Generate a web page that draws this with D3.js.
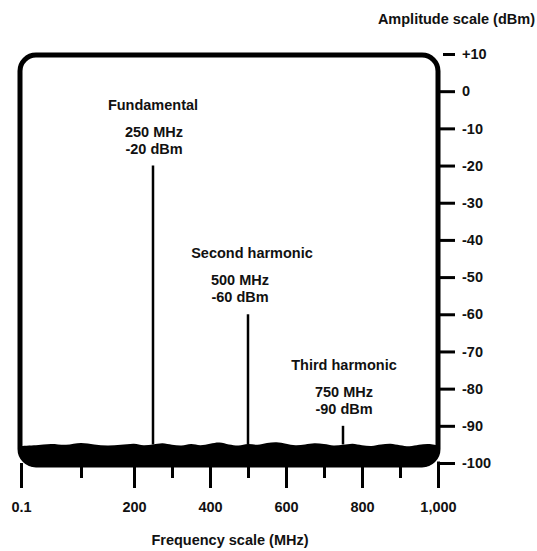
<!DOCTYPE html>
<html>
<head>
<meta charset="utf-8">
<script src="https://cdn.jsdelivr.net/npm/d3@7/dist/d3.min.js"></script>
<style>
  html, body { margin: 0; padding: 0; background: #fff; }
  svg { display: block; font-family: "Liberation Sans", Arial, Helvetica, sans-serif; }
  text { fill: #111; }
</style>
</head>
<body>
<svg id="chart" width="537" height="551"></svg>
<script>
// ---- data ----
const freqTicks = [0.1, 100, 200, 300, 400, 500, 600, 700, 800, 900, 1000];
const freqLabelTicks = [0.1, 200, 400, 600, 800, 1000];
const ampTicks = [10, 0, -10, -20, -30, -40, -50, -60, -70, -80, -90, -100];
const peakNames = ["Fundamental", "Second harmonic", "Third harmonic"];
const peakMHz = [250, 500, 750];
const peakDbm = [-20, -60, -90];
const noiseMHz = [0.1, 25, 50, 75, 100, 125, 150, 175, 200, 225, 250, 275, 300, 325, 350, 375, 400, 425, 450, 475, 500, 525, 550, 575, 600, 625, 650, 675, 700, 725, 750, 775, 800, 825, 850, 875, 900, 925, 950, 975, 1000];
const noiseDbm = [-95.4, -95.2, -94.9, -95.1, -94.6, -95.0, -95.3, -95.1, -94.8, -95.2, -95.0, -94.7, -95.1, -95.3, -94.9, -95.2, -94.8, -94.5, -95.0, -95.3, -94.9, -95.1, -94.6, -94.4, -94.8, -95.2, -95.0, -94.7, -94.9, -95.3, -95.1, -94.8, -95.2, -95.4, -95.0, -94.8, -95.2, -95.5, -95.1, -94.9, -95.3];

// ---- layout ----
const svg = d3.select("#chart");
const boxL = 20, boxR = 438, boxT = 55, boxB = 465, rad = 16;

// piecewise-linear frequency scale (schematic spacing of the original)
const x = d3.scaleLinear().domain([0.1, 100, 200, 1000]).range([21, 81, 134, 438]);
const y = d3.scaleLinear().domain([10, -100]).range([54, 463]);

svg.append("rect").attr("width", 537).attr("height", 551).attr("fill", "#fff");

// clip for noise floor
svg.append("clipPath").attr("id", "boxclip")
  .append("rect").attr("x", boxL).attr("y", boxT).attr("width", boxR - boxL).attr("height", boxB - boxT + 2)
  .attr("rx", rad).attr("ry", rad);

// noise floor area
const area = d3.area()
  .x((d, i) => x(noiseMHz[i]))
  .y0(boxB + 3)
  .y1(d => y(d))
  .curve(d3.curveCatmullRom);
svg.append("path")
  .datum(noiseDbm)
  .attr("clip-path", "url(#boxclip)")
  .attr("d", area)
  .attr("fill", "#000");

// box outline
svg.append("rect")
  .attr("x", boxL).attr("y", boxT).attr("width", boxR - boxL).attr("height", boxB - boxT)
  .attr("rx", rad).attr("ry", rad)
  .attr("fill", "none").attr("stroke", "#000").attr("stroke-width", 5);

// spikes
svg.selectAll("line.spike").data(peakMHz).enter().append("line")
  .attr("class", "spike")
  .attr("x1", d => x(d)).attr("x2", d => x(d))
  .attr("y1", (d, i) => y(peakDbm[i]))
  .attr("y2", y(-95))
  .attr("stroke", "#000").attr("stroke-width", 2.5);

// peak labels
const nameDx = [0, 4, 1], valDx = [1, -8, 1];
const g = svg.selectAll("g.peak").data(peakMHz).enter().append("g").attr("class", "peak")
  .attr("font-size", 14.5).attr("font-weight", "bold").attr("text-anchor", "middle");
g.append("text").attr("x", (d, i) => x(d) + nameDx[i]).attr("y", (d, i) => y(peakDbm[i]) - 56).text((d, i) => peakNames[i]);
g.append("text").attr("x", (d, i) => x(d) + valDx[i]).attr("y", (d, i) => y(peakDbm[i]) - 29).text(d => d + " MHz");
g.append("text").attr("x", (d, i) => x(d) + valDx[i]).attr("y", (d, i) => y(peakDbm[i]) - 12).text((d, i) => peakDbm[i] + " dBm");

// y axis (amplitude) on the right
const yAxis = d3.axisRight(y).tickValues(ampTicks).tickSize(17).tickPadding(7)
  .tickFormat(d => d > 0 ? "+" + d : String(d));
const ya = svg.append("g").attr("transform", `translate(${boxR},0)`).call(yAxis);
ya.select(".domain").remove();
ya.selectAll(".tick line").attr("stroke", "#000").attr("stroke-width", 3);
ya.selectAll(".tick text").attr("font-size", 14.5).attr("font-weight", "bold").attr("fill", "#111")
  .attr("font-family", "Liberation Sans, Arial, sans-serif");
ya.selectAll(".tick").filter(d => d === 10).select("line").attr("x1", 5);

// x axis (frequency) at bottom
const xAxis = d3.axisBottom(x).tickValues(freqTicks).tickSize(25).tickPadding(14)
  .tickFormat(d => freqLabelTicks.includes(d) ? (d < 1 ? "0.1" : d3.format(",")(d)) : "");
const xa = svg.append("g").attr("transform", `translate(0,${y(-100)})`).call(xAxis);
xa.select(".domain").remove();
xa.selectAll(".tick line").attr("stroke", "#000").attr("stroke-width", 3)
  .attr("y2", d => freqLabelTicks.includes(d) ? 25 : 15);
xa.selectAll(".tick text").attr("font-size", 14.5).attr("font-weight", "bold").attr("fill", "#111")
  .attr("font-family", "Liberation Sans, Arial, sans-serif");
xa.selectAll(".tick").filter(d => d === 1000).select("line").attr("y1", -1.5);

// axis titles
svg.append("text").attr("x", 230).attr("y", 545).attr("text-anchor", "middle")
  .attr("font-size", 14.5).attr("font-weight", "bold").text("Frequency scale (MHz)");
svg.append("text").attr("x", 535).attr("y", 24).attr("text-anchor", "end")
  .attr("font-size", 14.5).attr("font-weight", "bold").text("Amplitude scale (dBm)");
</script>
</body>
</html>
